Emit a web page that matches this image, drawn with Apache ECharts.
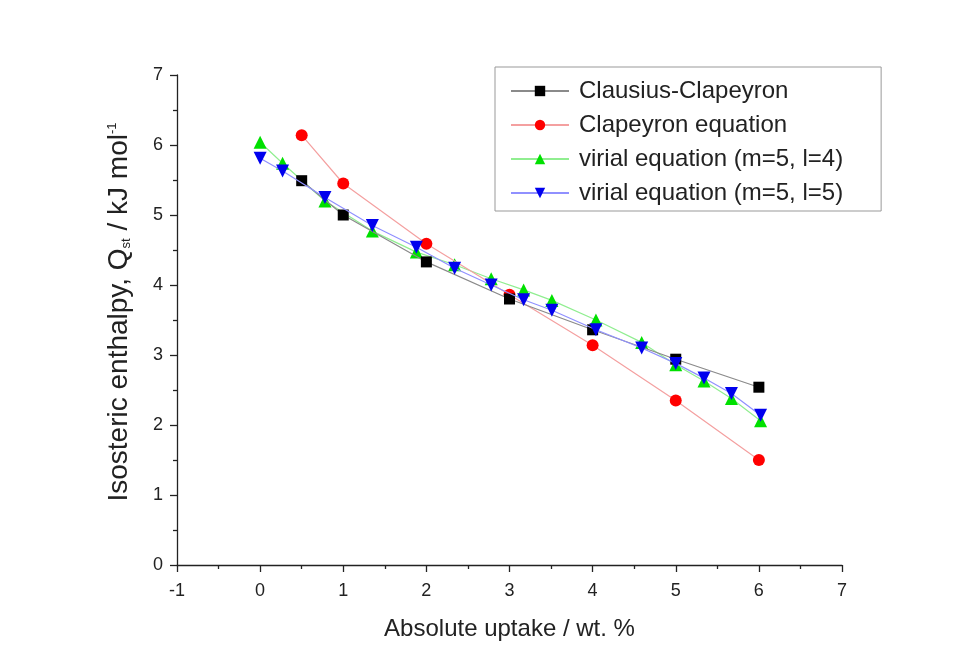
<!DOCTYPE html>
<html><head><meta charset="utf-8">
<script src="https://cdn.jsdelivr.net/npm/echarts@6/dist/echarts.min.js"></script>
<style>html,body{margin:0;padding:0;background:#fff}#c{width:958px;height:671px}</style>
</head><body><div id="c"></div>
<script>
const seriesNames = ['Clausius-Clapeyron','Clapeyron equation','virial equation (m=5, l=4)','virial equation (m=5, l=5)'];
const ccX = [0.5,1,2,3,4,5,6];
const ccY = [5.49,5.0,4.33,3.80,3.36,2.94,2.54];
const ceX = [0.5,1,2,3,4,5,6];
const ceY = [6.14,5.45,4.59,3.86,3.14,2.35,1.50];
const vX = [0,0.27,0.78,1.35,1.88,2.34,2.78,3.17,3.51,4.04,4.59,5.0,5.34,5.67,6.02];
const v4Y = [6.04,5.74,5.20,4.77,4.47,4.29,4.09,3.93,3.78,3.50,3.18,2.86,2.63,2.38,2.06];
const v5Y = [5.81,5.63,5.25,4.85,4.54,4.24,4.00,3.79,3.64,3.36,3.10,2.88,2.67,2.45,2.14];
const xTicks = [-1,0,1,2,3,4,5,6,7];
const yTicks = [0,1,2,3,4,5,6,7];

const pair = (xs, ys) => xs.map((x, i) => [x, ys[i]]);
const font = '"Liberation Sans", Arial, sans-serif';
const chart = echarts.init(document.getElementById('c'));
const axisCommon = {
  axisLine: {show: true, onZero: false, lineStyle: {color: '#222', width: 1.3}},
  axisTick: {show: true, length: 7, lineStyle: {color: '#222', width: 1.3}},
  minorTick: {show: true, splitNumber: 2, length: 4, lineStyle: {color: '#222', width: 1.3}},
  splitLine: {show: false},
  axisLabel: {color: '#222', fontSize: 18, fontFamily: font}
};
chart.setOption({
  backgroundColor: '#fff',
  animation: false,
  grid: {left: 177, top: 75, width: 665, height: 490},
  xAxis: Object.assign({}, axisCommon, {
    type: 'value', min: -1, max: 7, interval: 1,
    name: 'Absolute uptake / wt. %', nameLocation: 'middle', nameGap: 52,
    nameTextStyle: {color: '#222', fontSize: 24, fontFamily: font},
    axisLabel: Object.assign({}, axisCommon.axisLabel, {margin: 17, formatter: v => xTicks.includes(v) ? String(v) : ''})
  }),
  yAxis: Object.assign({}, axisCommon, {
    type: 'value', min: 0, max: 7, interval: 1,
    name: 'Isosteric enthalpy, Q{sub|st} / kJ mol{sup|-1}', nameLocation: 'middle', nameGap: 44,
    nameTextStyle: {color: '#222', fontSize: 28, fontFamily: font, padding: [0, 0, 0, 16],
      rich: {
        sub: {fontSize: 13, fontFamily: font, color: '#222', padding: [14, 0, 0, 0]},
        sup: {fontSize: 13, fontFamily: font, color: '#222', padding: [0, 0, 14, 0]}
      }},
    axisLabel: Object.assign({}, axisCommon.axisLabel, {margin: 14, formatter: v => yTicks.includes(v) ? String(v) : ''})
  }),
  legend: {
    orient: 'vertical', left: 495, top: 67, padding: [12, 38, 6, 15],
    borderColor: '#999', borderWidth: 1, itemWidth: 58, itemHeight: 13, itemGap: 10,
    textStyle: {color: '#222', fontSize: 24, fontFamily: font, padding: [0,0,0,5]},
    data: seriesNames
  },
  series: [
    {name: seriesNames[0], type: 'line', data: pair(ccX, ccY), symbol: 'rect', symbolSize: 11,
     itemStyle: {color: '#000'}, lineStyle: {color: '#8a8a8a', width: 1.2}, z: 4},
    {name: seriesNames[1], type: 'line', data: pair(ceX, ceY), symbol: 'circle', symbolSize: 12,
     itemStyle: {color: '#f00'}, lineStyle: {color: '#f4a0a0', width: 1.2}, z: 3},
    {name: seriesNames[2], type: 'line', data: pair(vX, v4Y), symbol: 'triangle', symbolSize: 13,
     itemStyle: {color: '#00e000'}, lineStyle: {color: '#90ee90', width: 1.2}, z: 2},
    {name: seriesNames[3], type: 'line', data: pair(vX, v5Y), symbol: 'triangle', symbolRotate: 180, symbolSize: 13,
     itemStyle: {color: '#0000ee'}, lineStyle: {color: '#9090ff', width: 1.2}, z: 5}
  ]
});
</script></body></html>
